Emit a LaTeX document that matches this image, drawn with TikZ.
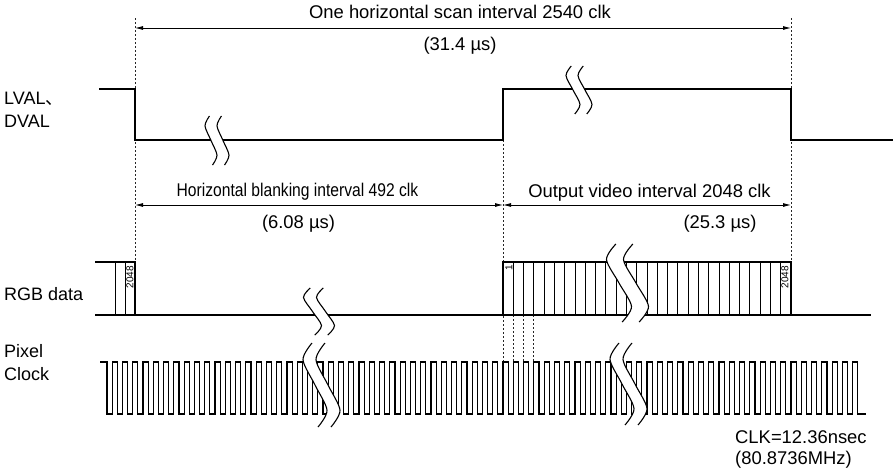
\documentclass[tikz,border=0pt]{standalone}
\usepackage{fontspec}
\setmainfont{Liberation Sans}
\newfontfamily\cjkfont{Noto Sans CJK JP}
\usetikzlibrary{arrows.meta}
\begin{document}
\begin{tikzpicture}[x=1pt,y=-1pt,
  sig/.style={line width=2.4pt, line join=miter},
  thinsig/.style={line width=0.9pt},
  clk/.style={line width=1.1pt, line join=miter},
  guide/.style={line width=0.8pt, dash pattern=on 2pt off 2pt, black!85},
  dim/.style={line width=0.8pt, {Latex[length=8pt,width=4pt]}-{Latex[length=8pt,width=4pt]}},
  lbl/.style={font=\fontsize{18.4}{20}\selectfont, inner sep=0pt},
  sidelbl/.style={font=\fontsize{18}{20}\selectfont, inner sep=0pt, anchor=base west},
  tinylbl/.style={font=\fontsize{10}{10}\selectfont, inner sep=0pt, rotate=90},
  brkline/.style={line width=1.1pt},
  pics/brk/.style n args={3}{code={
    \fill[white] plot[smooth] coordinates {(-0.25*#2,-#1) (-#2,-0.6*#1) (0,0) (#2,0.6*#1) (0.25*#2,#1)}
      -- plot[smooth] coordinates {(#3+0.25*#2,#1) (#3+#2,0.6*#1) (#3,0) (#3-#2,-0.6*#1) (#3-0.25*#2,-#1)} -- cycle;
    \draw[brkline] plot[smooth] coordinates {(-0.25*#2,-#1) (-#2,-0.6*#1) (0,0) (#2,0.6*#1) (0.25*#2,#1)};
    \draw[brkline] plot[smooth] coordinates {(#3-0.25*#2,-#1) (#3-#2,-0.6*#1) (#3,0) (#3+#2,0.6*#1) (#3+0.25*#2,#1)};
  }}
]
\fill[white] (0,0) rectangle (893,474);
\useasboundingbox (0,0) rectangle (893,474);

% key coordinates
\coordinate (gA) at (135,18);
\coordinate (gAb) at (135,262);
\coordinate (gB) at (791,18);
\coordinate (gBb) at (791,262);
\coordinate (gC) at (503,140);
\coordinate (gCb) at (503,362);
\coordinate (aL) at (135,28);
\coordinate (aR) at (791,28);
\coordinate (bL) at (135,205);
\coordinate (bM) at (503,205);
\coordinate (bR) at (791,205);

% guides
\draw[guide] (gA) -- (gAb);
\draw[guide] (gB) -- (gBb);
\draw[guide] (gC) -- (gCb);
\foreach \k in {1,2,3}
  \draw[guide] ({503+\k*10.2857},315) -- ({503+\k*10.2857},362);

% dimension arrows
\draw[dim] (aL) -- (aR);
\draw[dim] (bL) -- (bM);
\draw[dim] (bM) -- (bR);

% LVAL/DVAL
\draw[sig] (99,89) -- (135,89) -- (135,140) -- (503,140) -- (503,89) -- (791,89) -- (791,140) -- (893,140);

% RGB data
\draw[thinsig] (115,262) -- (115,315) (125,262) -- (125,315);
\foreach \k in {1,...,27}
  \draw[thinsig] ({503+\k*10.2857},262) -- ({503+\k*10.2857},315);
\draw[sig] (95,262) -- (135,262) -- (135,315);
\draw[sig] (95,315) -- (871,315);
\draw[sig] (503,315) -- (503,262) -- (791,262) -- (791,315);

% Pixel clock
\draw[clk] (100,362) -- (107,362) -- (107,414)
  \foreach \k in {0,...,72}{ -- ({112.14+\k*10.2857},414) -- ++(0,-52) -- ++(5.143,0) -- ++(0,52)} -- (866,414);

% breaks
\pic at (211,140.5) {brk={24.5}{6}{12}};
\pic at (573,90) {brk={24}{7}{12}};
\pic at (312.5,311.5) {brk={23.5}{9}{13}};
\pic at (315,385) {brk={42}{12}{13}};
\pic at (619,283) {brk={39}{12.5}{17}};
\pic at (622,384) {brk={41}{12}{13}};

% texts
\node[lbl, anchor=base] (t1) at (460,18) {One horizontal scan interval 2540 clk};
\node[lbl, anchor=base] (t2) at (460,50) {(31.4 µs)};
\node[lbl, anchor=base] (t3) at (297.5,196.5) {\scalebox{0.85}[1]{Horizontal blanking interval 492 clk}};
\node[lbl, anchor=base] (t4) at (298.5,228) {(6.08 µs)};
\node[lbl, anchor=base] (t5) at (649.5,197) {Output video interval 2048 clk};
\node[lbl, anchor=base] (t6) at (720,228) {(25.3 µs)};
\node[lbl, anchor=base west] (t7) at (735,443) {CLK=12.36nsec};
\node[lbl, anchor=base west] (t8) at (735,464) {(80.8736MHz)};

\node[sidelbl] (l1) at (4,104) {LVAL{\cjkfont 、}};
\node[sidelbl] (l2) at (4,127) {DVAL};
\node[sidelbl] (l3) at (4,300) {RGB data};
\node[sidelbl] (l4) at (4,357) {Pixel};
\node[sidelbl] (l5) at (4,380) {Clock};

\node[tinylbl] (n1) at (130,277) {2048};
\node[tinylbl] (n2) at (785,277) {2048};
\node[tinylbl] (n3) at (509,268) {1};
\end{tikzpicture}
\end{document}
